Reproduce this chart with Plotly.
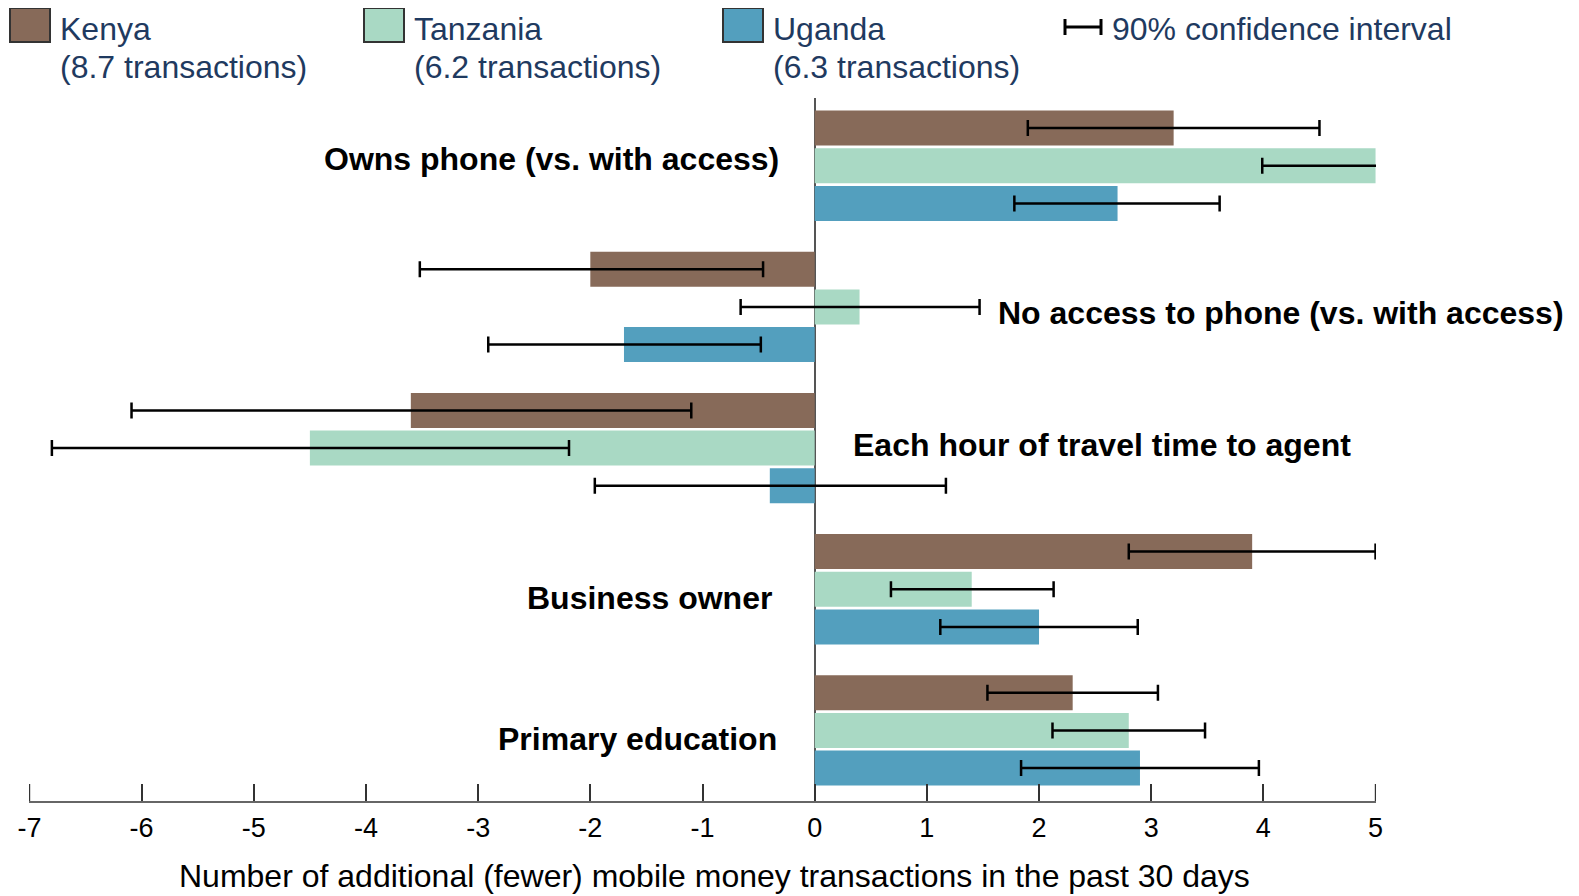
import plotly.graph_objects as go

categories = ["Owns phone (vs. with access)", "No access to phone (vs. with access)",
              "Each hour of travel time to agent", "Business owner", "Primary education"]
countries = ["Kenya", "Tanzania", "Uganda"]
legend_notes = ["(8.7 transactions)", "(6.2 transactions)", "(6.3 transactions)"]
colors = ["#876a59", "#a9d9c4", "#539fbe"]
tick_vals = [-7, -6, -5, -4, -3, -2, -1, 0, 1, 2, 3, 4, 5]
tick_text = ["-7", "-6", "-5", "-4", "-3", "-2", "-1", "0", "1", "2", "3", "4", "5"]

# point estimates per country, one value per category
kenya = [3.2, -2.0, -3.6, 3.9, 2.3]
tanzania = [5.0, 0.4, -4.5, 1.4, 2.8]
uganda = [2.7, -1.7, -0.4, 2.0, 2.9]

# 90% confidence interval bounds
kenya_lo = [1.9, -3.52, -6.09, 2.8, 1.54]
kenya_hi = [4.5, -0.46, -1.1, 5.0, 3.06]
tanzania_lo = [3.99, -0.66, -6.8, 0.68, 2.12]
tanzania_hi = [5.82, 1.47, -2.19, 2.13, 3.48]
uganda_lo = [1.78, -2.91, -1.96, 1.12, 1.84]
uganda_hi = [3.61, -0.48, 1.17, 2.88, 3.96]

values = [kenya, tanzania, uganda]
lows = [kenya_lo, tanzania_lo, uganda_lo]
highs = [kenya_hi, tanzania_hi, uganda_hi]

# page has an 8px body margin, so the figure is drawn 8px in from the window corner
OFF = 8
W, H = 1579 - OFF, 896 - OFF
L, R, T, B = 29, 1376, 98, 801  # plot area in window pixels


def px(x):
    return (x - L) / (R - L)


def py(y):
    return (B - y) / (B - T)


fig = go.Figure()
for name, vals, lo, hi, col in zip(countries, values, lows, highs, colors):
    fig.add_trace(go.Bar(
        y=categories, x=vals, orientation="h", name=name,
        marker=dict(color=col, line=dict(width=0)),
        error_x=dict(type="data", symmetric=False,
                     array=[h - v for h, v in zip(hi, vals)],
                     arrayminus=[v - l for v, l in zip(vals, lo)],
                     color="black", thickness=2.5, width=8),
        showlegend=False,
    ))

fig.update_layout(
    width=W, height=H,
    margin=dict(l=L - OFF, r=W - (R - OFF), t=T - OFF, b=H - (B - OFF), autoexpand=False),
    barmode="group", bargap=0.2, bargroupgap=0.07,
    plot_bgcolor="white", paper_bgcolor="white",
    font=dict(family="Liberation Sans, Arial, sans-serif", color="black"),
)
fig.update_xaxes(
    range=[-7.004, 5.004], tickvals=tick_vals, ticktext=tick_text, showgrid=False,
    zeroline=True, zerolinecolor="#555555", zerolinewidth=1.5,
    showline=True, linecolor="#666666", linewidth=2,
    ticks="inside", ticklen=17, tickwidth=1.5, tickcolor="#333333",
    tickfont=dict(size=27), ticklabelstandoff=2, automargin=False,
)
fig.update_yaxes(range=[4.5, -0.48], showticklabels=False, showgrid=False,
                 zeroline=False, showline=False, ticks="", automargin=False)

# plotly drops inside ticks at the very ends of the axis, so add those two
for xv in (tick_vals[0], tick_vals[-1]):
    fig.add_shape(type="line", xref="x", yref="paper", x0=xv, x1=xv, y0=0, y1=py(784),
                  line=dict(color="#333333", width=1.5))

fig.add_annotation(x=px(714), y=py(895), xref="paper", yref="paper",
                   text="Number of additional (fewer) mobile money transactions in the past 30 days",
                   showarrow=False, xanchor="center", yanchor="bottom", borderpad=0,
                   font=dict(size=32, color="black"))

# category labels
label_pos = [(781, 159, "right"), (996, 313, "left"), (851, 445, "left"),
             (774, 598, "right"), (779, 739, "right")]
for cat, (x, y, anc) in zip(categories, label_pos):
    fig.add_annotation(x=px(x), y=py(y), xref="paper", yref="paper", text="<b>%s</b>" % cat,
                       showarrow=False, xanchor=anc, yanchor="middle",
                       font=dict(size=32, color="black"))

# legend
navy = "#1f3a60"
sq_x = [10, 364, 723]
for x0, name, note, col in zip(sq_x, countries, legend_notes, colors):
    fig.add_shape(type="rect", xref="paper", yref="paper",
                  x0=px(x0), x1=px(x0 + 40), y0=py(42), y1=py(8),
                  fillcolor=col, line=dict(color="#333333", width=2))
    fig.add_annotation(x=px(x0 + 48), y=py(29), xref="paper", yref="paper", text=name,
                       showarrow=False, xanchor="left", yanchor="middle",
                       font=dict(size=32, color=navy))
    fig.add_annotation(x=px(x0 + 48), y=py(67), xref="paper", yref="paper", text=note,
                       showarrow=False, xanchor="left", yanchor="middle",
                       font=dict(size=32, color=navy))

fig.add_shape(type="line", xref="paper", yref="paper", x0=px(1065), x1=px(1101),
              y0=py(27), y1=py(27), line=dict(color="black", width=3))
for xe in (1065, 1101):
    fig.add_shape(type="line", xref="paper", yref="paper", x0=px(xe), x1=px(xe),
                  y0=py(19), y1=py(35), line=dict(color="black", width=3))
fig.add_annotation(x=px(1110), y=py(29), xref="paper", yref="paper", text="90% confidence interval",
                   showarrow=False, xanchor="left", yanchor="middle",
                   font=dict(size=32, color=navy))

fig.write_html("out.html")
